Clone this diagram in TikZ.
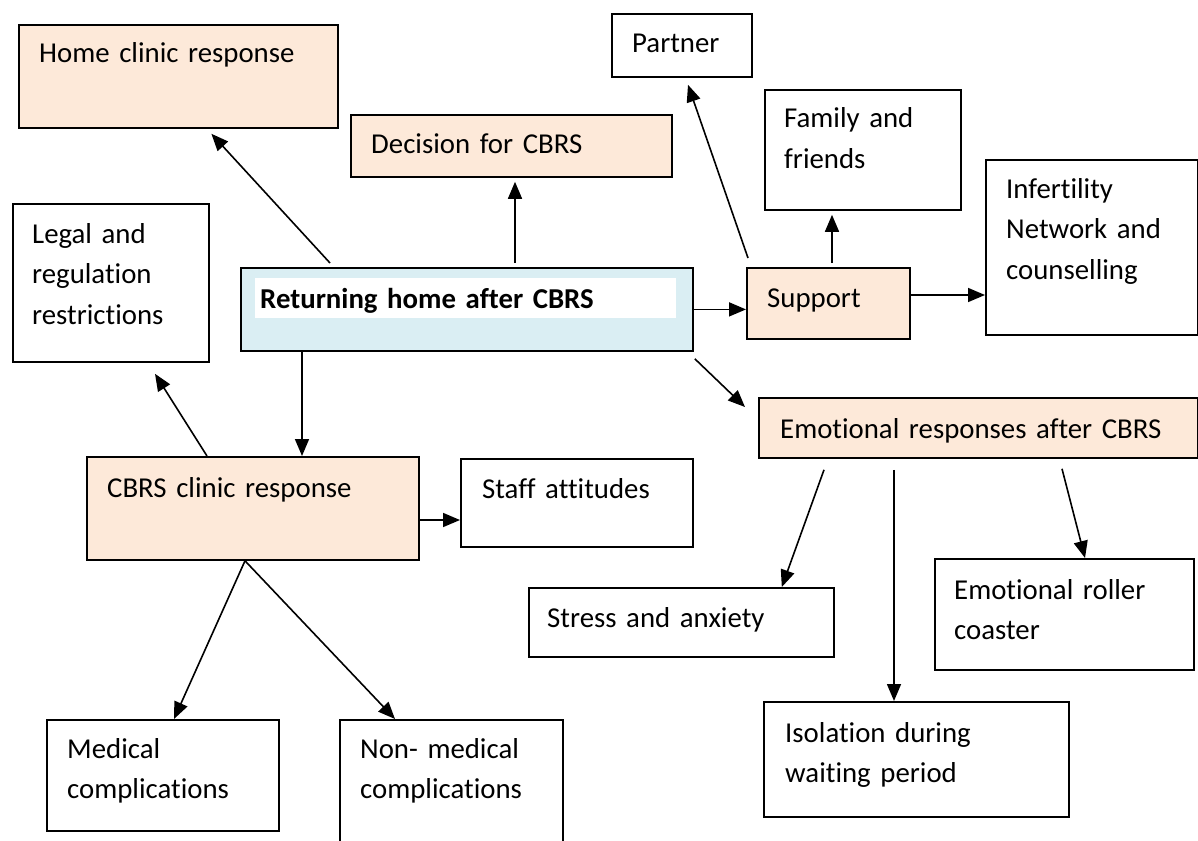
\documentclass[tikz,border=0pt]{standalone}
\usepackage{fontspec}
\setmainfont{Carlito}[Ligatures=NoCommon, Contextuals=NoAlternate, WordSpace=0.85]
\usetikzlibrary{arrows.meta}
\definecolor{peach}{HTML}{FDE9D9}
\definecolor{paleblue}{HTML}{DAEEF3}

\begin{document}
\begin{tikzpicture}[x=1pt,y=-1pt,
    box/.style 2 args={draw, line width=1.8pt, inner sep=0pt, anchor=north west,
        minimum width=#1, minimum height=#2},
    txt/.style={inner sep=0pt, anchor=base west, align=left, text width=#1,
        font=\fontsize{28.8}{40.5}\selectfont},
    arr/.style={line width=1.6pt, -{Triangle[length=17pt,width=14pt]}}]
    \useasboundingbox (0,0) rectangle (1198,840);
    \clip (0,0) rectangle (1198,840);
    \fill[white] (0,0) rectangle (1198,840);
    % Top row
    \node[box={319pt}{103pt}, fill=peach] (home) at (18,24) {};
    \node[txt=290pt] (homet) at (39,63) {Home clinic response};
    \node[box={140pt}{63pt}] (partner) at (611,13) {};
    \node[txt=110pt] (partnert) at (632,53) {Partner};
    \node[box={321pt}{62pt}, fill=peach] (dec) at (350,114) {};
    \node[txt=290pt] (dect) at (371,153) {Decision for CBRS};
    \node[box={196pt}{120pt}] (fam) at (764,89) {};
    \node[txt=170pt] (famt) at (784,128) {Family and\\friends};
    \node[box={212pt}{175pt}] (inf) at (985,159) {};
    \node[txt=185pt] (inft) at (1006,198) {Infertility\\Network and\\counselling};
    \node[box={196pt}{158pt}] (legal) at (12,203) {};
    \node[txt=170pt] (legalt) at (32,243) {Legal and\\regulation\\restrictions};
    % Centre (highlighted title)
    \node[box={452pt}{83pt}, fill=paleblue] (ret) at (240,267) {};
    \node[fill=white, inner sep=0pt, anchor=north west, minimum width=421pt, minimum height=40pt] (retbg) at (255,278) {};
    \node[txt=410pt] (rett) at (260,308) {\bfseries Returning home after CBRS};
    \node[box={163pt}{71pt}, fill=peach] (sup) at (746,267) {};
    \node[txt=135pt] (supt) at (767,307) {Support};
    \node[box={439pt}{60pt}, fill=peach] (emo) at (758,397) {};
    \node[txt=410pt] (emot) at (780,438) {Emotional responses after CBRS};
    \node[box={332pt}{103pt}, fill=peach] (cbrs) at (86,456) {};
    \node[txt=300pt] (cbrst) at (107,497) {CBRS clinic response};
    \node[box={232pt}{88pt}] (staff) at (460,458) {};
    \node[txt=205pt] (stafft) at (482,498) {Staff attitudes};
    % Bottom row
    \node[box={305pt}{69pt}] (stress) at (528,587) {};
    \node[txt=280pt] (stresst) at (547,627) {Stress and anxiety};
    \node[box={259pt}{111pt}] (roll) at (934,558) {};
    \node[txt=235pt] (rollt) at (954,599) {Emotional roller\\coaster};
    \node[box={232pt}{111pt}] (med) at (46,719) {};
    \node[txt=205pt] (medt) at (67,758) {Medical\\complications};
    \node[box={223pt}{131pt}] (nonmed) at (339,719) {};
    \node[txt=195pt] (nonmedt) at (360,758) {Non- medical\\complications};
    \node[box={305pt}{115pt}] (iso) at (763,701) {};
    \node[txt=275pt] (isot) at (785,742) {Isolation during\\waiting period};
    % Arrows
    \draw[arr] ([xshift=90pt,yshift=4pt]ret.north west) -- ([xshift=33pt,yshift=-5pt]home.south);
    \draw[arr] ([xshift=275pt,yshift=4pt]ret.north west) -- ([xshift=165pt,yshift=-4pt]dec.south west);
    \draw[arr] (ret.east) -- (ret.east -| sup.west);
    \draw[arr] ([xshift=1pt,yshift=-7pt]ret.south east) -- ([xshift=-13pt,yshift=-10pt]emo.north west);
    \draw[arr] ([xshift=62pt]ret.south west) -- ([xshift=62pt]ret.south west |- cbrs.north);
    \draw[arr] ([xshift=2pt,yshift=9pt]sup.north west) -- ([xshift=77pt,yshift=-7pt]partner.south west);
    \draw[arr] ([xshift=86pt,yshift=4pt]sup.north west) -- ([xshift=68pt,yshift=-4pt]fam.south west);
    \draw[arr] ([yshift=-28pt]sup.north east) -- ([yshift=-28pt]sup.north east -| inf.west);
    \draw[arr] ([xshift=121pt]cbrs.north west) -- ([xshift=143pt,yshift=-11pt]legal.south west);
    \draw[arr] ([yshift=-64pt]cbrs.north east) -- ([yshift=-64pt]cbrs.north east -| staff.west);
    \draw[arr] ([xshift=159pt]cbrs.south west) -- ([xshift=128pt]med.north west);
    \draw[arr] ([xshift=159pt]cbrs.south west) -- ([xshift=56pt]nonmed.north west);
    \draw[arr] ([xshift=66pt,yshift=-11pt]emo.south west) -- ([xshift=-53pt]stress.north east);
    \draw[arr] ([xshift=136pt,yshift=-11pt]emo.south west) -- ([xshift=131pt]iso.north west);
    \draw[arr] ([xshift=304pt,yshift=-10pt]emo.south west) -- ([xshift=151pt]roll.north west);
\end{tikzpicture}
\end{document}
